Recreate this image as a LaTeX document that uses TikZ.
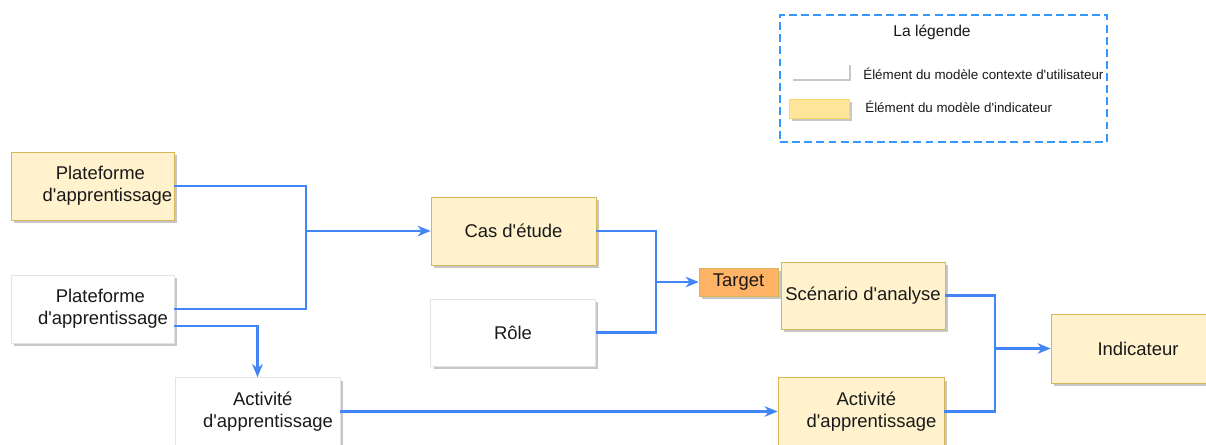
\documentclass[tikz,border=0pt]{standalone}
\usepackage{fontspec}
\setmainfont{Liberation Sans}[Ligatures=TeXOff]
\usetikzlibrary{arrows.meta,positioning,calc,shadows}
\definecolor{ink}{RGB}{25,25,25}
\definecolor{ylw}{RGB}{255,242,204}
\definecolor{ylwB}{RGB}{214,182,86}
\definecolor{ylwL}{RGB}{255,217,102}
\definecolor{ylwF}{RGB}{255,229,153}
\definecolor{grB}{RGB}{228,228,228}
\definecolor{org}{RGB}{255,179,102}
\definecolor{lnk}{RGB}{66,133,244}
\definecolor{leg}{RGB}{51,153,255}
\newcommand{\bx}{\fontsize{10.5}{12.3}\selectfont}
\newcommand{\lgf}{\fontsize{7.6}{9}\selectfont}
\newcommand{\ind}[1]{\hspace*{#1}}
\tikzset{
  shd/.style={drop shadow={fill=black!40,opacity=0.55,shadow xshift=1.7pt,shadow yshift=-1.7pt}},
  elem/.style={draw=ylwB,fill=ylw,shd,inner sep=1pt,font=\bx,text=ink,align=center,
    minimum width=3.3cm,minimum height=1.36cm},
  ctx/.style={elem,draw=grB,fill=white},
  tgt/.style={draw=ylwB,fill=org,shd,inner sep=1pt,font=\bx,text=ink,
    minimum width=1.58cm,minimum height=0.56cm},
  link/.style={draw=lnk,line width=1.25pt},
  flow/.style={link,-{Stealth[length=2.6mm,width=2.1mm,inset=0.8mm]}},
  legbox/.style={draw=leg,line width=1.1pt,dash pattern=on 4.5pt off 2.4pt},
}
\begin{document}
\begin{tikzpicture}[x=0.02cm,y=-0.02cm]
\useasboundingbox (0,0) rectangle (1206,444);
% legend
\node[legbox,minimum width=6.54cm,minimum height=2.54cm] (lgd) at (943.5,78.5) {};
\node[font=\fontsize{8.9}{10}\selectfont,text=ink] (lgt) at (932,32) {La légende};
\node[draw=white,fill=white,shd,minimum width=1.16cm,minimum height=0.32cm,inner sep=0pt] (lgc) at (819,70) {};
\node[draw=ylwL,fill=ylwF,shd,minimum width=1.2cm,minimum height=0.38cm,inner sep=0pt] (lgi) at (819,108.5) {};
\node[anchor=west,inner sep=0pt,font=\lgf,text=ink] (lgct) at (863,74) {Élément du modèle contexte d'utilisateur};
\node[anchor=west,inner sep=0pt,font=\lgf,text=ink] (lgit) at (865,107) {Élément du modèle d'indicateur};

% elements
\node[elem,minimum width=3.26cm] (P1) at (92.5,186)
  {\ind{9pt}Plateforme\\\ind{17pt}d'apprentissage};
\node[ctx,minimum width=3.26cm] (P2) at (92.5,309)
  {\ind{9pt}Plateforme\\\ind{12pt}d'apprentissage};
\node[ctx] (A1) at (257.5,411.5) {\ind{6pt}Activité\\\ind{12pt}d'apprentissage};
\node[elem] (Cas) at (513.5,231) {Cas d'étude};
\node[ctx,minimum height=1.34cm] (Role) at (513,332.5) {Rôle};
\node[tgt] (Tgt) at (738.5,282) {Target};
\node[elem,minimum width=3.28cm,minimum height=1.34cm] (Scen) at (863,295.5) {Scénario d'analyse};
\node[elem,minimum width=3.32cm] (A2) at (861,411.5) {\ind{6pt}Activité\\\ind{12pt}d'apprentissage};
\node[elem,minimum width=3.48cm,minimum height=1.38cm] (Ind) at (1138,348.5) {Indicateur};

% junctions
\coordinate (jA) at (306,231);
\coordinate (jB) at (656,282);
\coordinate (jC) at (995,348.5);

% edges
\draw[link] (P1.east) -| (jA);
\draw[link] (P2.east) -| (jA);
\draw[flow] (jA) -- (Cas.west);
\draw[flow] ($(P2.east)!0.5!(P2.south east)$) -| (A1.north);
\draw[link] (Cas.east) -| (jB);
\draw[link] (Role.east) -| (jB);
\draw[flow] (jB) -- (Tgt.west);
\draw[flow] (A1.east) -- (A2.west);
\draw[link] (Scen.east) -| (jC);
\draw[link] (A2.east) -| (jC);
\draw[flow] (jC) -- (Ind.west);
\end{tikzpicture}
\end{document}
